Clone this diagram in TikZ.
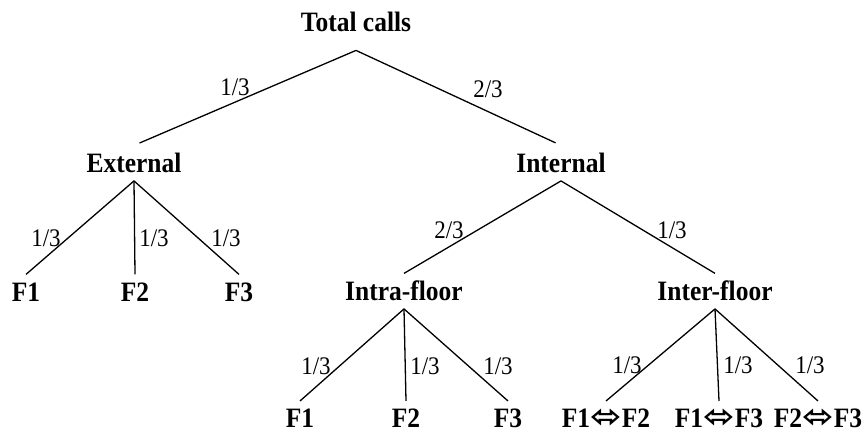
\documentclass[tikz,border=0pt]{standalone}
\usepackage{fontspec}
\setmainfont{Liberation Serif}
\newfontfamily\arrowfont{DejaVu Sans}
\newcommand{\lr}{\scalebox{1.3}[1]{\arrowfont\fontsize{29}{29}\selectfont ⬄}}

\tikzset{
    branch/.style={font=\fontsize{25.5}{28}\selectfont\bfseries, anchor=base,
        yscale=1.1, inner xsep=2pt, inner ysep=7pt, text height=17pt, text depth=0pt},
    leaf/.style={branch, inner ysep=0pt, text height=23pt},
    prob/.style={font=\fontsize{23}{26}\selectfont, anchor=base, yscale=1.1, inner sep=0pt}
}

\begin{document}
\begin{tikzpicture}[x=1pt, y=-1pt, line width=1.3pt]
    \useasboundingbox (0,0) rectangle (867,434);

    % tree levels
    \node (total) [branch, text depth=10pt] at (356,31) {Total calls};
    \node (external) [branch] at (134,172.5) {External};
    \node (internal) [branch] at (561,172.5) {Internal};
    \node (intra) [branch] at (404,300.5) {Intra-floor};
    \node (inter) [branch] at (715,300.5) {Inter-floor};

    \node (ext_f1) [branch] at (26,301.5) {F1};
    \node (ext_f2) [branch] at (135,301.5) {F2};
    \node (ext_f3) [branch] at (239,301.5) {F3};

    \node (intra_f1) [leaf] at (300,427) {F1};
    \node (intra_f2) [leaf] at (406,427) {F2};
    \node (intra_f3) [leaf] at (508,427) {F3};

    \node (inter_12) [leaf] at (606,427) {F1\lr F2};
    \node (inter_13) [leaf] at (719,427) {F1\lr F3};
    \node (inter_23) [leaf] at (818,427) {F2\lr F3};

    % branches
    \draw [-, shorten >=6pt] (total.south) to (external.north);
    \draw [-, shorten >=6pt] (total.south) to (internal.north);
    \foreach \leaf in {ext_f1,ext_f2,ext_f3}
        \draw [-] (external.south) to (\leaf.north);
    \draw [-] (internal.south) to (intra.north);
    \draw [-] (internal.south) to (inter.north);
    \foreach \leaf in {intra_f1,intra_f2,intra_f3}
        \draw [-] (intra.south) to (\leaf.north);
    \foreach \leaf in {inter_12,inter_13,inter_23}
        \draw [-] (inter.south) to (\leaf.north);

    % probabilities
    \node (p_ext) [prob] at (235,95) {1/3};
    \node (p_int) [prob] at (488,97) {2/3};
    \node (p_ext1) [prob] at (46,246) {1/3};
    \node (p_ext2) [prob] at (154,246) {1/3};
    \node (p_ext3) [prob] at (226,246) {1/3};
    \node (p_intra) [prob] at (449,238) {2/3};
    \node (p_inter) [prob] at (672,238) {1/3};
    \node (p_intra1) [prob] at (316,374) {1/3};
    \node (p_intra2) [prob] at (425,374) {1/3};
    \node (p_intra3) [prob] at (498,374) {1/3};
    \node (p_inter1) [prob] at (627,373) {1/3};
    \node (p_inter2) [prob] at (738,373) {1/3};
    \node (p_inter3) [prob] at (810,373) {1/3};
\end{tikzpicture}
\end{document}
